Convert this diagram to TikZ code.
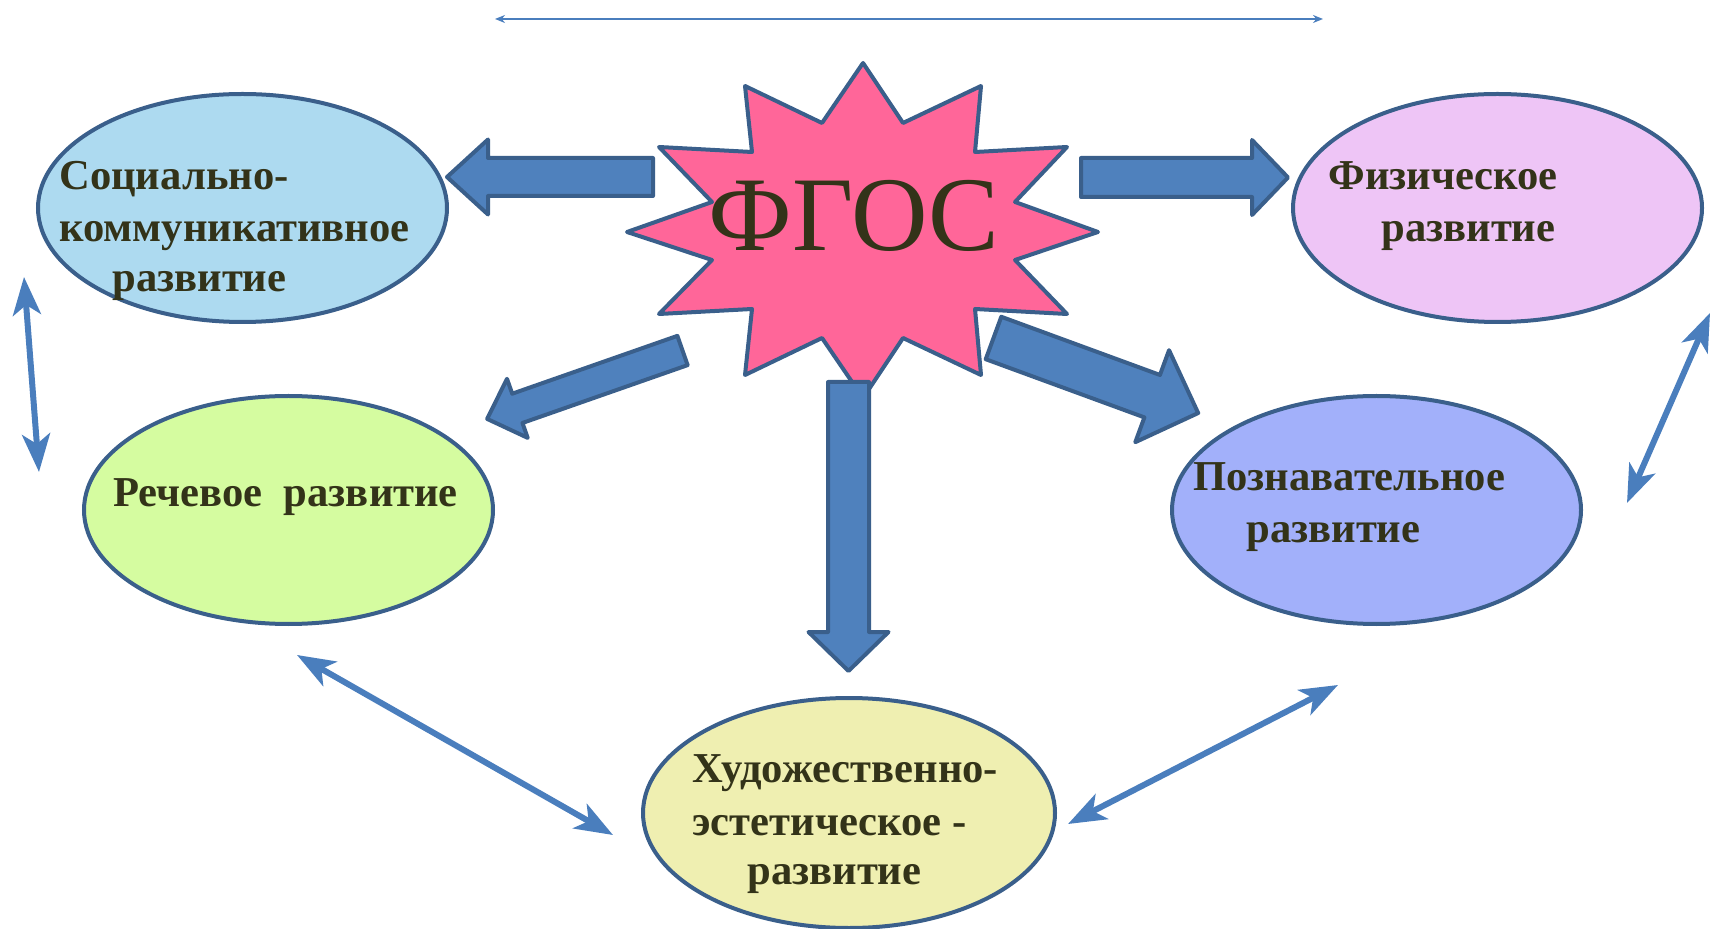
\documentclass[tikz,border=0pt]{standalone}
\usepackage{fontspec}
\setmainfont{Liberation Serif}
\usetikzlibrary{shapes.geometric,arrows.meta}
\definecolor{bfill}{HTML}{4F81BD}
\definecolor{bline}{HTML}{3A5F8B}
\definecolor{tcol}{HTML}{333319}
\definecolor{csoc}{HTML}{ADDAF0}
\definecolor{cphys}{HTML}{EEC5F6}
\definecolor{cspeech}{HTML}{D5FCA0}
\definecolor{ccog}{HTML}{A2B0FA}
\definecolor{cart}{HTML}{EFEFB1}
\definecolor{cpink}{HTML}{FF6699}
\definecolor{cthin}{HTML}{4A7EBD}
\tikzset{
  ell/.style={ellipse, draw=bline, line width=2pt, inner sep=0pt,
    minimum width=204.5pt, minimum height=114pt},
  lbl/.style={anchor=base west, inner sep=0pt, text=tcol,
    font=\fontsize{21.3}{25}\selectfont\bfseries},
  barrow/.style={draw=bline, fill=bfill, line width=2pt, line join=round},
  dbl/.style={draw=cthin, line width=3pt,
    {Stealth[length=19pt,width=14pt,inset=5pt]}-{Stealth[length=19pt,width=14pt,inset=5pt]}},
  topline/.style={draw=cthin, line width=1pt,
    {Stealth[length=5pt,width=4pt]}-{Stealth[length=5pt,width=4pt]}}
}
\newcommand\blockarr[6]{%
  \begin{scope}[shift={#1}, rotate=#2]
    \draw[barrow] (0,-#4) -- ({#3-#6},-#4) -- ({#3-#6},-#5) -- (#3,0)
      -- ({#3-#6},#5) -- ({#3-#6},#4) -- (0,#4) -- cycle;
  \end{scope}}
\begin{document}
\begin{tikzpicture}[x=0.5pt, y=-0.5pt]
\path[use as bounding box] (0,0) rectangle (1711,929);

% ellipses
\node[ell, fill=csoc] (soc) at (242.5,208) {};
\node[ell, fill=cphys] (phys) at (1497.5,208) {};
\node[ell, fill=cspeech] (speech) at (288.5,510) {};
\node[ell, fill=ccog] (cog) at (1376.5,510) {};
\node[ell, fill=cart, minimum width=206pt, minimum height=115pt] (art) at (849,813) {};

% labels
\node[lbl] (soc1) at (59,190) {Социально-};
\node[lbl] (soc2) at (59,242) {коммуникативное};
\node[lbl] (soc3) at (112,292) {развитие};
\node[lbl] (phys1) at (1328,190) {Физическое};
\node[lbl] (phys2) at (1381,242) {развитие};
\node[lbl] (speech1) at (113,507) {Речевое\ \ развитие};
\node[lbl] (cog1) at (1193,491) {Познавательное};
\node[lbl] (cog2) at (1246,543) {развитие};
\node[lbl] (art1) at (692,782) {Художественно-};
\node[lbl] (art2) at (692,835) {эстетическое -};
\node[lbl] (art3) at (747,884) {развитие};

% star
\draw[fill=cpink, draw=bline, line width=2pt, line join=round]
  (863,63) -- (903,123) -- (981,86) -- (975,152) -- (1067,147) -- (1015,202)
  -- (1098,232) -- (1015,260) -- (1067,314) -- (975,309) -- (981,375)
  -- (903,338) -- (863,398) -- (822,338) -- (745,375) -- (752,309)
  -- (659,314) -- (712,260) -- (627,232) -- (712,202) -- (659,147)
  -- (752,152) -- (745,86) -- (822,123) -- cycle;
\node[text=tcol, font=\fontsize{53}{60}\selectfont, anchor=base, inner sep=0pt] (fgos) at (854,251) {ФГОС};

% block arrows
\blockarr{(653,177)}{180}{206}{19}{37.5}{41}
\blockarr{(1081,177.5)}{0}{207}{19.5}{37.5}{36}
\blockarr{(848.5,382)}{-90}{289}{20.5}{40}{39}
\blockarr{(682.5,350.5)}{199.3}{207}{15.5}{31.3}{32}
\blockarr{(993.5,338)}{-20.14}{218}{22.6}{49}{49}

% thin double arrows
\coordinate (t1) at (495,19);
\coordinate (t2) at (1323,19);
\coordinate (l1) at (24,277);
\coordinate (l2) at (39,472);
\coordinate (r1) at (1710,313);
\coordinate (r2) at (1627,503);
\coordinate (ll1) at (297,655);
\coordinate (ll2) at (613,835);
\coordinate (lr1) at (1338,685);
\coordinate (lr2) at (1068,824);
\draw[topline] (t1) -- (t2);
\draw[dbl] (l1) -- (l2);
\draw[dbl] (r1) -- (r2);
\draw[dbl] (ll1) -- (ll2);
\draw[dbl] (lr1) -- (lr2);
\end{tikzpicture}
\end{document}
